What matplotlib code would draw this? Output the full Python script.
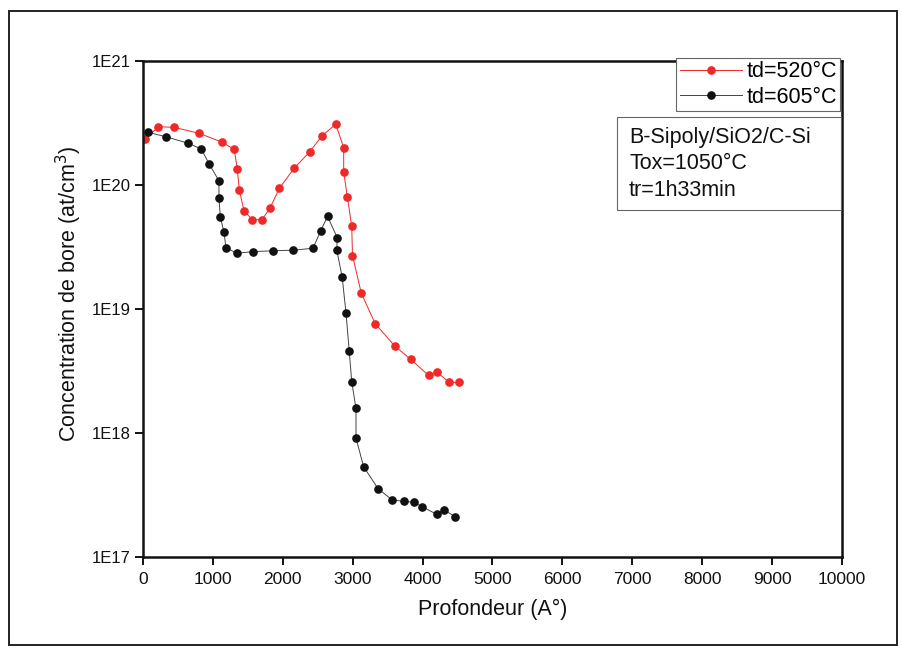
import matplotlib
matplotlib.use("Agg")
import matplotlib.pyplot as plt
from matplotlib.patches import Rectangle
from matplotlib.ticker import FixedLocator, FuncFormatter, NullLocator
import numpy as np

plt.rcParams['font.family'] = ['Liberation Sans', 'DejaVu Sans']

# Boron depth profiles (depth in Angstrom, concentration in at/cm^3)
depth_520 = [30, 219, 443, 805, 1126, 1306, 1349, 1378, 1445, 1564, 1702, 1817,
             1950, 2165, 2385, 2557, 2757, 2871, 2871, 2923, 2986, 2997, 3123,
             3323, 3605, 3830, 4087, 4206, 4382, 4521]
conc_520 = [2.34e20, 2.95e20, 2.92e20, 2.61e20, 2.22e20, 1.94e20, 1.34e20, 9.1e19,
            6.2e19, 5.25e19, 5.25e19, 6.5e19, 9.4e19, 1.37e20, 1.85e20, 2.48e20,
            3.09e20, 2.0e20, 1.27e20, 8.06e19, 4.64e19, 2.7e19, 1.34e19, 7.6e18,
            5.0e18, 3.93e18, 2.91e18, 3.09e18, 2.56e18, 2.56e18]

depth_605 = [72, 329, 648, 834, 949, 1087, 1087, 1106, 1159, 1187, 1340, 1578,
             1856, 2150, 2432, 2542, 2640, 2778, 2773, 2850, 2904, 2951, 2986,
             3047, 3047, 3157, 3366, 3567, 3738, 3877, 3996, 4202, 4302, 4464]
conc_605 = [2.66e20, 2.45e20, 2.17e20, 1.95e20, 1.47e20, 1.08e20, 7.83e19, 5.52e19,
            4.15e19, 3.12e19, 2.82e19, 2.9e19, 2.95e19, 2.98e19, 3.09e19, 4.27e19,
            5.58e19, 3.77e19, 2.98e19, 1.8e19, 9.3e18, 4.55e18, 2.59e18, 1.58e18,
            9.1e17, 5.33e17, 3.54e17, 2.88e17, 2.81e17, 2.76e17, 2.54e17, 2.21e17,
            2.4e17, 2.12e17]

x_ticks = list(range(0, 10001, 1000))
y_ticks = [1e17, 1e18, 1e19, 1e20, 1e21]
series_labels = ["td=520°C", "td=605°C"]
info_lines = ["B-Sipoly/SiO2/C-Si", "Tox=1050°C", "tr=1h33min"]

W, H = 903, 649
fig = plt.figure(figsize=(W / 100, H / 100), dpi=100)
fig.patch.set_facecolor("white")

def fx(px):
    return px / W

def fy(py):
    return 1 - py / H

# outer frame
fig.patches.append(Rectangle((fx(9), fy(645)), fx(897) - fx(9), fy(11) - fy(645),
                             transform=fig.transFigure, fill=False,
                             edgecolor="#222222", linewidth=1.4))

ax = fig.add_axes([fx(143), fy(557), fx(842) - fx(143), fy(61) - fy(557)])
ax.set_yscale("log")
ax.set_xlim(0, 10000)
ax.set_ylim(1e17, 1e21)

ax.plot(depth_520, conc_520, color="#f02828", linewidth=0.7, marker="o",
        markersize=5.2, markerfacecolor="#f02828", markeredgecolor="#f02828",
        label=series_labels[0])
ax.plot(depth_605, conc_605, color="#444444", linewidth=0.7, marker="o",
        markersize=5.2, markerfacecolor="#111111", markeredgecolor="#111111",
        label=series_labels[1])

ax.xaxis.set_major_locator(FixedLocator(x_ticks))
ax.yaxis.set_major_locator(FixedLocator(y_ticks))
ax.yaxis.set_minor_locator(NullLocator())
ax.xaxis.set_minor_locator(NullLocator())
ax.yaxis.set_major_formatter(FuncFormatter(lambda v, p: "1E%d" % int(round(np.log10(v)))))
ax.tick_params(axis="both", direction="out", length=6, width=1.4, labelsize=12,
               pad=3, colors="#111111")
ax.tick_params(axis="x", labelsize=12.5, pad=5)
for s in ax.spines.values():
    s.set_linewidth(1.8)
    s.set_color("#111111")

ax.set_xlabel("Profondeur (A°)", fontsize=15.5, color="#111111")
ax.set_ylabel("Concentration de bore (at/cm$^3$)", fontsize=15.5, color="#111111")
ax.xaxis.set_label_coords(0.5, -0.085)
ax.yaxis.set_label_coords(-0.085, 0.53)

leg = fig.legend(loc="upper right", bbox_to_anchor=(fx(840), fy(58)),
                 fontsize=15.5, frameon=True, fancybox=False, framealpha=1,
                 edgecolor="#666666", borderpad=0.15, handlelength=2.9,
                 handletextpad=0.2, labelspacing=0.22, borderaxespad=0)
leg.get_frame().set_linewidth(0.8)

# info box
fig.patches.append(Rectangle((fx(617), fy(210)), fx(841) - fx(617), fy(117) - fy(210),
                             transform=fig.transFigure, fill=True, facecolor="white",
                             edgecolor="#666666", linewidth=0.8, zorder=5))
for i, line in enumerate(info_lines):
    fig.text(fx(629), fy(137 + 26.5 * i), line, fontsize=15.5, color="#111111",
             ha="left", va="center", zorder=6)

fig.savefig("out.png", dpi=100)
